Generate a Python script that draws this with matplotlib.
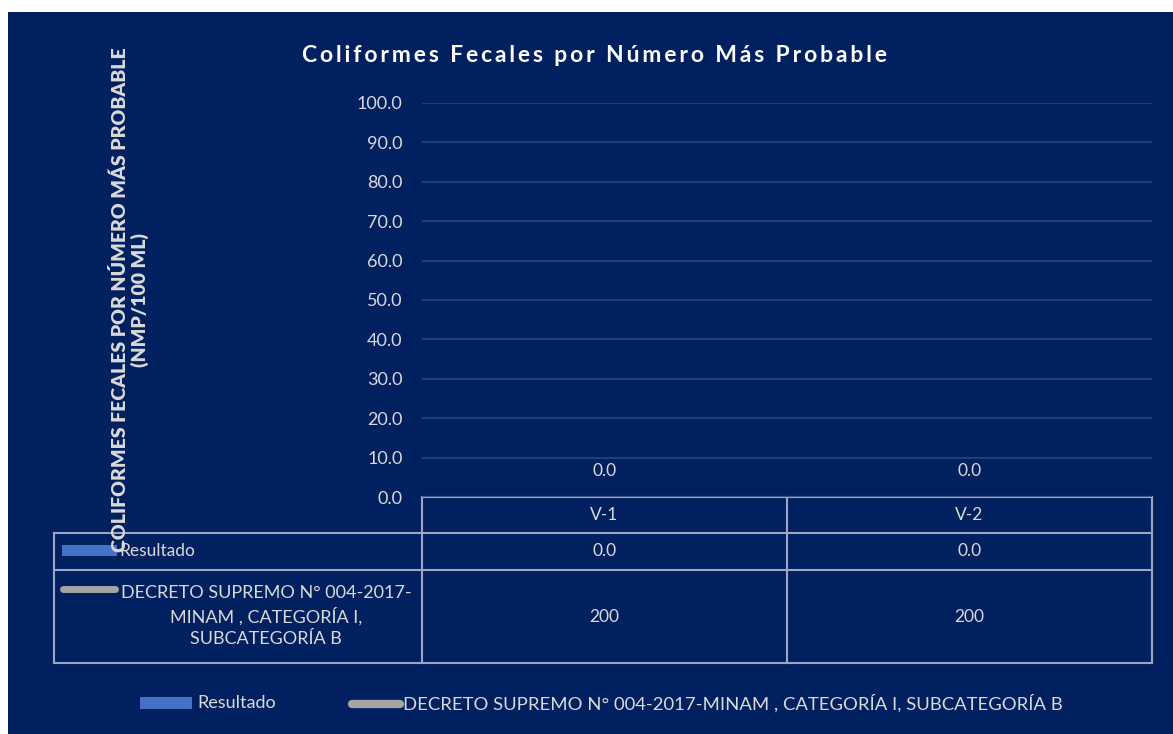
import matplotlib.pyplot as plt
from matplotlib.patches import Rectangle
import numpy as np

# data
# ------------------------------------------------------------------
categories = ['V-1', 'V-2']
resultado = [0.0, 0.0]
decreto = [200, 200]
series_names = ['Resultado', 'DECRETO SUPREMO N° 004-2017-MINAM , CATEGORÍA I, SUBCATEGORÍA B']
table_row_labels = ['Resultado', 'DECRETO SUPREMO N° 004-2017-\nMINAM , CATEGORÍA I,\nSUBCATEGORÍA B']
yticks = np.arange(0, 101, 10)

title = 'Coliformes Fecales por Número Más Probable'
ylabel = 'COLIFORMES FECALES POR NÚMERO MÁS PROBABLE\n(NMP/100 ML)'

navy = '#002060'
txt = '#d9d9d9'
frame = '#9aa6c4'
grid = '#2b4378'
blue = '#4472c4'
grey = '#a5a5a5'

plt.rcParams['font.family'] = ['Lato', 'DejaVu Sans']

W, H = 1173, 734
fig = plt.figure(figsize=(W / 100, H / 100), dpi=100, facecolor='white')

# overlay in pixel coordinates for the background and the data table
ov = fig.add_axes([0, 0, 1, 1])
ov.set_xlim(0, W)
ov.set_ylim(H, 0)
ov.axis('off')
ov.add_patch(Rectangle((8, 12), W - 8, H - 12, facecolor=navy, edgecolor='none', zorder=0))

# chart area
# ------------------------------------------------------------------
px_left, px_right, px_top, px_bottom = 422, 1152, 103, 497
ax = fig.add_axes([px_left / W, 1 - px_bottom / H, (px_right - px_left) / W, (px_bottom - px_top) / H])
ax.set_facecolor('none')
x = np.arange(len(categories))
bars = ax.bar(x, resultado, width=0.5, color=blue)
ax.plot(x, decreto, color=grey, lw=4, solid_capstyle='round')
ax.set_xlim(-0.5, len(categories) - 0.5)
ax.set_ylim(0, 100)
ax.set_yticks(yticks)
ax.set_yticklabels(['%.1f' % v for v in yticks])
ax.tick_params(axis='y', length=0, pad=14, labelsize=13, labelcolor=txt)
ax.set_xticks([])
ax.grid(axis='y', color=grid, lw=1.2)
ax.set_axisbelow(True)
for s in ax.spines.values():
    s.set_visible(False)

for xi, v in zip(x, resultado):
    ax.annotate('%.1f' % v, (xi, v), xytext=(0, 19), textcoords='offset points',
                ha='center', va='center', color=txt, fontsize=12.5)

# spaced-out bold title
fig.text(595 / W, 1 - 55 / H, '\u2009'.join(title), ha='center', va='center', color='white',
         fontsize=16.5, fontweight='bold')
fig.text(130 / W, 1 - 300 / H, ylabel, ha='center', va='center', rotation=90,
         color=txt, fontsize=14, fontweight='heavy', linespacing=1.1)

# data table below the axis
# ------------------------------------------------------------------
col_edges = [px_left, 787, px_right]
row_edges = [px_bottom, 533, 570, 663]
tab_left = 54
lc = dict(color=frame, lw=1.5, zorder=3)
ov.plot([px_left, px_right], [row_edges[0]] * 2, **lc)
for y in row_edges[1:]:
    ov.plot([tab_left, px_right], [y, y], **lc)
ov.plot([tab_left, tab_left], [row_edges[1], row_edges[-1]], **lc)
for xe in col_edges:
    ov.plot([xe, xe], [row_edges[0], row_edges[-1]], **lc)

centers = [(col_edges[i] + col_edges[i + 1]) / 2 for i in range(len(categories))]
for cx, cat, r, d in zip(centers, categories, resultado, decreto):
    ov.text(cx, (row_edges[0] + row_edges[1]) / 2, cat, ha='center', va='center', color=txt, fontsize=12.5)
    ov.text(cx, (row_edges[1] + row_edges[2]) / 2, '%.1f' % r, ha='center', va='center', color=txt, fontsize=12.5)
    ov.text(cx, (row_edges[2] + row_edges[3]) / 2, '%d' % d, ha='center', va='center', color=txt, fontsize=12.5)

# row headers with series keys
ov.add_patch(Rectangle((62, 545), 55, 11, facecolor=blue, edgecolor='none', zorder=4))
ov.text(119, 551, table_row_labels[0], ha='left', va='center', color=txt, fontsize=12.5)
ov.plot([63, 115], [589, 589], color=grey, lw=5, solid_capstyle='round', zorder=4)
ov.text(266, 616, table_row_labels[1], ha='center', va='center', color=txt, fontsize=13,
        linespacing=1.4)

# legend at the bottom
# ------------------------------------------------------------------
ov.add_patch(Rectangle((140, 697), 52, 12, facecolor=blue, edgecolor='none', zorder=4))
ov.text(197, 703, series_names[0], ha='left', va='center', color=txt, fontsize=13)
ov.plot([352, 400], [704, 704], color=grey, lw=6, solid_capstyle='round', zorder=4)
ov.text(403, 703, series_names[1], ha='left', va='center', color=txt, fontsize=13.3)

fig.savefig('out.png', dpi=100, facecolor=fig.get_facecolor())
